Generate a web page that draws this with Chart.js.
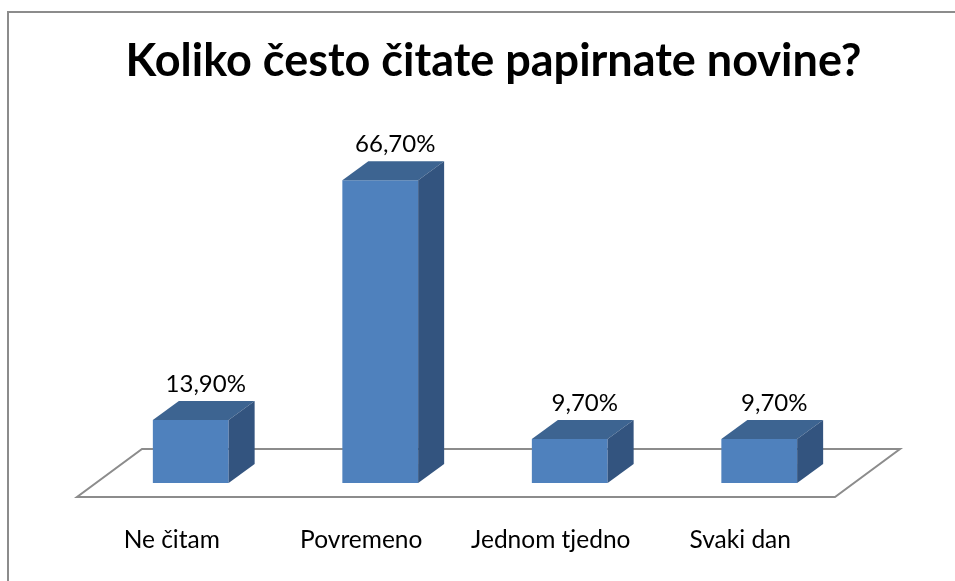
<!DOCTYPE html>
<html>
<head>
<meta charset="utf-8">
<script src="https://cdn.jsdelivr.net/npm/chart.js@4"></script>
<style>
  html, body { margin: 0; padding: 0; background: #fff; overflow: hidden; }
  #wrap { width: 955px; height: 581px; position: relative; }
</style>
</head>
<body>
<div id="wrap"><canvas id="chart"></canvas></div>
<script>
// ── data ────────────────────────────────────────────────────
const categories = ["Ne čitam", "Povremeno", "Jednom tjedno", "Svaki dan"];
const shares = [13.9, 66.7, 9.7, 9.7];
const titleText = "Koliko često čitate papirnate novine?";

// ── look ────────────────────────────────────────────────────
const FRONT = "#4f81bd";
const TOP = "#3d6491";
const SIDE = "#33547f";
const LINE = "#8c8c8c";
const DEPTH_X = 26, DEPTH_Y = 19; // bar depth

const fmtPct = (v) => v.toFixed(2).replace(".", ",") + "%";

// frame round the whole chart + floor behind the bars
const frame = {
  id: "frame",
  beforeDraw(chart) {
    const ctx = chart.ctx;
    ctx.save();
    ctx.strokeStyle = LINE;
    ctx.lineWidth = 2;
    ctx.strokeRect(8, 12, 2000, 2000);
    ctx.restore();
  },
  beforeDatasetsDraw(chart) {
    const { ctx, chartArea: a, scales } = chart;
    const base = scales.y.getPixelForValue(0);
    ctx.save();
    ctx.strokeStyle = LINE;
    ctx.lineWidth = 2;
    ctx.beginPath();
    ctx.moveTo(a.left - 19, base + 14);
    ctx.lineTo(a.right - 19, base + 14);
    ctx.lineTo(a.right + 46, base - 34);
    ctx.lineTo(a.left + 46, base - 34);
    ctx.closePath();
    ctx.stroke();
    ctx.restore();
  },
};

// top + side faces, value labels
const bar3d = {
  id: "bar3d",
  afterDatasetsDraw(chart) {
    const ctx = chart.ctx;
    const meta = chart.getDatasetMeta(0);
    ctx.save();
    meta.data.forEach((bar, i) => {
      const { x, y, base, width } = bar.getProps(["x", "y", "base", "width"], true);
      const l = x - width / 2, r = x + width / 2;

      ctx.fillStyle = TOP;
      ctx.beginPath();
      ctx.moveTo(l, y);
      ctx.lineTo(r, y);
      ctx.lineTo(r + DEPTH_X, y - DEPTH_Y);
      ctx.lineTo(l + DEPTH_X, y - DEPTH_Y);
      ctx.closePath();
      ctx.fill();

      ctx.fillStyle = SIDE;
      ctx.beginPath();
      ctx.moveTo(r, y);
      ctx.lineTo(r + DEPTH_X, y - DEPTH_Y);
      ctx.lineTo(r + DEPTH_X, base - DEPTH_Y);
      ctx.lineTo(r, base);
      ctx.closePath();
      ctx.fill();

      ctx.fillStyle = "#000";
      ctx.font = "24px Lato";
      ctx.textAlign = "center";
      ctx.textBaseline = "middle";
      ctx.fillText(fmtPct(shares[i]), x + DEPTH_X / 2 + 2, y - DEPTH_Y - 17);
    });
    ctx.restore();
  },
};

Chart.defaults.font.family = "Lato";
Chart.defaults.color = "#000";

new Chart(document.getElementById("chart"), {
  type: "bar",
  data: {
    labels: categories,
    datasets: [
      {
        data: shares,
        backgroundColor: FRONT,
        borderWidth: 0,
        categoryPercentage: 1,
        barPercentage: 0.4,
        yAxisID: "y",
      },
    ],
  },
  options: {
    responsive: true,
    maintainAspectRatio: false,
    animation: false,
    layout: { padding: { left: 64, right: 32, top: 0, bottom: 0 } },
    plugins: {
      legend: { display: false },
      tooltip: { enabled: false },
      title: {
        display: true,
        text: titleText,
        color: "#000",
        font: { family: "Lato", size: 45, weight: "bold" },
        padding: { top: 34.2, bottom: 31.8 },
      },
    },
    scales: {
      x: {
        grid: { display: false },
        border: { display: false },
        ticks: {
          font: { size: 24.5 },
          color: "#000",
          padding: 34.5,
          labelOffset: -19,
          maxRotation: 0,
          autoSkip: false,
        },
        afterFit: (s) => { s.height = 98; },
      },
      y: {
        position: "left",
        min: 0,
        max: 80,
        grid: { display: false },
        border: { display: false },
        ticks: { display: false },
        afterFit: (s) => { s.width = 32; },
      },
      y2: {
        position: "right",
        min: 0,
        max: 80,
        grid: { display: false },
        border: { display: false },
        ticks: { display: false },
        afterFit: (s) => { s.width = 69; },
      },
    },
  },
  plugins: [frame, bar3d],
});
</script>
</body>
</html>
